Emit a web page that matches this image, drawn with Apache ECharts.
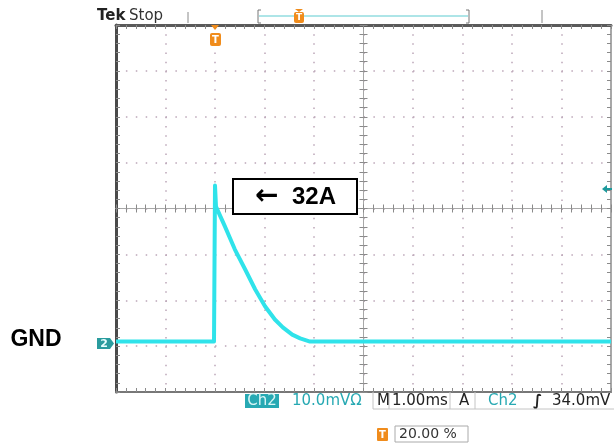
<!DOCTYPE html>
<html><head><meta charset="utf-8">
<script src="https://cdn.jsdelivr.net/npm/echarts@6/dist/echarts.min.js"></script>
<style>html,body{margin:0;padding:0;background:#fff}#c{width:614px;height:445px}</style>
</head><body><div id="c"></div>
<script>
// Horizontal: divisions from screen centre (1.00 ms/div); vertical: divisions (10.0 mV/div)
const timeDiv = [-5.0, -3.02, -3.00, -2.98, -2.80, -2.60, -2.39, -2.19, -1.99, -1.79, -1.63, -1.44, -1.28, -1.08, 5.0];
const ch2Div  = [-2.90, -2.90, 0.50, 0.04, -0.39, -0.89, -1.33, -1.76, -2.13, -2.42, -2.59, -2.75, -2.83, -2.90, -2.90];
const xRange = [-5, 5];
const yRange = [-4, 4];
const peakArrow = '←';
const peakLabel = '32A';
const gndLabel = 'GND';
const statusLabels = ['Tek', 'Stop'];
const readout = {ch: 'Ch2', volts: '10.0mVΩ', m: 'M', time: '1.00ms', a: 'A', trigCh: 'Ch2', slope: '∫', level: '34.0mV', pos: '20.00 %'};

const ORANGE = '#f08c1c', TEAL = '#27a9b3', TRACE = '#2fe3ea';
const gridBox = {left: 116, top: 25, width: 495, height: 367, outerBoundsMode: 'none'};
const dotV = {color: '#bca6b8', width: 1.5, type: [1.5, 7.68], dashOffset: 0};
const dotH = {color: '#bca6b8', width: 1.5, type: [1.5, 8.4], dashOffset: 0};

function xAx(grid, pos, line, inside, split, onZero) {
  return {type: 'value', gridIndex: grid, position: pos, min: xRange[0], max: xRange[1], interval: 1,
    axisLine: {show: true, onZero: onZero, lineStyle: line},
    axisTick: {show: true, inside: inside, length: 4, lineStyle: {color: '#8a8a8a', width: 1}},
    minorTick: {show: true, splitNumber: 5, length: 4, lineStyle: {color: '#8a8a8a', width: 1}},
    axisLabel: {show: false}, splitLine: split ? {show: true, lineStyle: dotV} : {show: false}};
}
function yAx(grid, pos, line, inside, split, onZero) {
  return {type: 'value', gridIndex: grid, position: pos, min: yRange[0], max: yRange[1], interval: 1,
    axisLine: {show: true, onZero: onZero, lineStyle: line},
    axisTick: {show: true, inside: inside, length: 4, lineStyle: {color: '#8a8a8a', width: 1}},
    minorTick: {show: true, splitNumber: 5, length: 4, lineStyle: {color: '#8a8a8a', width: 1}},
    axisLabel: {show: false}, splitLine: split ? {show: true, lineStyle: dotH} : {show: false}};
}

const txt = (x, y, text, font, fill, align) => ({type: 'text', x: x, y: y, z: 70,
  style: {text: text, font: font, fill: fill, align: align || 'left', verticalAlign: 'middle'}});
const ln = (x1, y1, x2, y2, c, w) => ({type: 'line', z: 50, shape: {x1, y1, x2, y2}, style: {stroke: c, lineWidth: w || 1}});
const RO = '15px "DejaVu Sans"';

const option = {
  animation: false,
  backgroundColor: '#ffffff',
  grid: [Object.assign({}, gridBox), Object.assign({}, gridBox), Object.assign({}, gridBox)],
  xAxis: [
    xAx(0, 'bottom', {color: '#777', width: 2}, true, true, false),
    xAx(0, 'top', {color: '#5a5a5a', width: 3}, true, false, false),
    xAx(1, 'bottom', {color: '#a8a8a8', width: 1}, true, false, true),
    xAx(2, 'bottom', {color: '#a8a8a8', width: 1}, false, false, true)
  ],
  yAxis: [
    yAx(0, 'left', {color: '#4a4a4a', width: 3}, true, true, false),
    yAx(0, 'right', {color: '#a8a8a8', width: 2}, true, false, false),
    yAx(1, 'left', {color: '#a8a8a8', width: 1}, true, false, true),
    yAx(2, 'left', {color: '#a8a8a8', width: 1}, false, false, true)
  ],
  series: [{
    type: 'line', xAxisIndex: 0, yAxisIndex: 0, z: 10,
    showSymbol: false, symbol: 'none',
    lineStyle: {color: TRACE, width: 4, join: 'round'},
    data: timeDiv.map((t, i) => [t, ch2Div[i]])
  }],
  graphic: [
    txt(97, 16, statusLabels[0], 'bold 15px "DejaVu Sans"', '#222'),
    txt(129, 16, statusLabels[1], '15px "DejaVu Sans"', '#333'),
    ln(188, 12, 188, 23, '#8a8a8a'),
    ln(542, 10, 542, 23, '#8a8a8a'),
    {type: 'polyline', z: 50, shape: {points: [[261, 10], [258, 10], [258, 23], [261, 23]]}, style: {stroke: '#777', lineWidth: 1, fill: null}},
    {type: 'polyline', z: 50, shape: {points: [[466, 10], [469, 10], [469, 23], [466, 23]]}, style: {stroke: '#777', lineWidth: 1, fill: null}},
    ln(259, 16, 468, 16, '#5ccbd0', 1),
    {type: 'rect', z: 51, shape: {x: 294, y: 12, width: 10, height: 11, r: 2}, style: {fill: ORANGE}},
    {type: 'polygon', z: 51, shape: {points: [[295, 9], [303, 9], [299, 12]]}, style: {fill: ORANGE}},
    txt(299, 18, 'T', 'bold 9px "DejaVu Sans"', '#fff', 'center'),
    {type: 'polygon', z: 51, shape: {points: [[211, 25], [219, 25], [215, 30]]}, style: {fill: ORANGE}},
    {type: 'rect', z: 51, shape: {x: 210, y: 33, width: 11, height: 13, r: 2}, style: {fill: ORANGE}},
    txt(215.5, 40, 'T', 'bold 10px "DejaVu Sans"', '#fff', 'center'),
    {type: 'polygon', z: 51, shape: {points: [[97, 338], [110, 338], [114, 343.5], [110, 349], [97, 349]]}, style: {fill: '#2a9c9e'}},
    txt(104, 344, '2', 'bold 11px "DejaVu Sans"', '#e8ffff', 'center'),
    {type: 'polygon', z: 51, shape: {points: [[602, 189], [607, 185], [607, 188], [612, 188], [612, 190], [607, 190], [607, 193]]}, style: {fill: '#1d9a9c'}},
    {type: 'rect', z: 52, shape: {x: 233, y: 179, width: 124, height: 35}, style: {fill: '#fff', stroke: '#000', lineWidth: 2}},
    txt(255, 197, peakArrow, 'bold 28px "DejaVu Sans"', '#000'),
    txt(292, 197, peakLabel, 'bold 24px "Liberation Sans"', '#000'),
    txt(36, 340, gndLabel, 'bold 23px "Liberation Sans"', '#000', 'center'),
    {type: 'rect', z: 50, shape: {x: 245, y: 394, width: 34, height: 14}, style: {fill: TEAL}},
    txt(262, 401.5, readout.ch, RO, '#d8f6f6', 'center'),
    txt(292, 401.5, readout.volts, RO, TEAL),
    ln(373, 392, 373, 409, '#c4c4c4'), ln(389, 392, 389, 409, '#c4c4c4'),
    ln(450, 392, 450, 409, '#c4c4c4'), ln(475, 392, 475, 409, '#c4c4c4'),
    ln(373, 409, 614, 409, '#c4c4c4'),
    txt(377, 401.5, readout.m, RO, '#222'),
    txt(392, 401.5, readout.time, RO, '#222'),
    txt(459, 401.5, readout.a, RO, '#222'),
    txt(488, 401.5, readout.trigCh, RO, TEAL),
    txt(533, 401.5, readout.slope, 'bold 15px "DejaVu Sans"', '#222'),
    txt(552, 401.5, readout.level, RO, '#222'),
    {type: 'rect', z: 50, shape: {x: 377, y: 428, width: 11, height: 13, r: 1}, style: {fill: ORANGE}},
    txt(382.5, 435, 'T', 'bold 10px "DejaVu Sans"', '#fff', 'center'),
    {type: 'rect', z: 50, shape: {x: 395, y: 426, width: 73, height: 16}, style: {fill: null, stroke: '#aaa', lineWidth: 1}},
    txt(399, 434.5, readout.pos, '14px "DejaVu Sans"', '#333')
  ]
};
const chart = echarts.init(document.getElementById('c'), null, {renderer: 'canvas'});
chart.setOption(option);
</script></body></html>
